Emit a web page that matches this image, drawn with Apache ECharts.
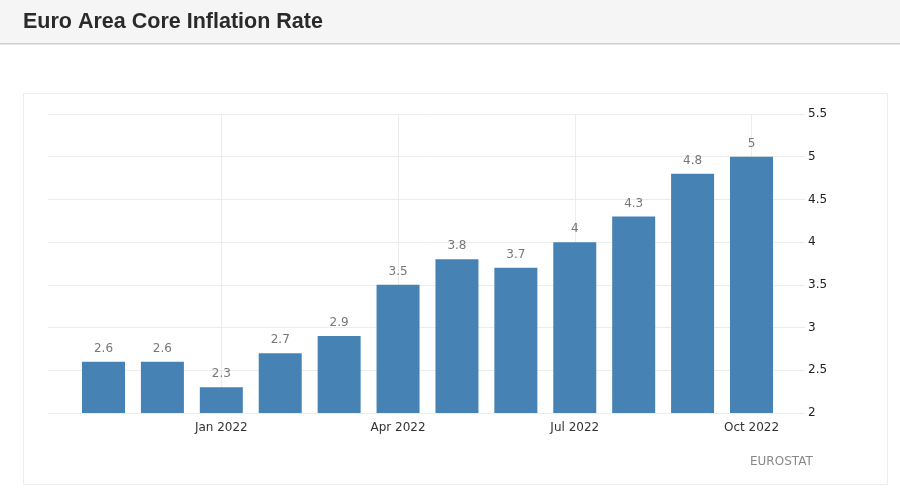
<!DOCTYPE html>
<html>
<head>
<meta charset="utf-8">
<script src="https://cdn.jsdelivr.net/npm/echarts@6/dist/echarts.min.js"></script>
<style>
html,body{margin:0;padding:0;background:#fff;}
#chart{width:900px;height:499px;}
</style>
</head>
<body>
<div id="chart"></div>
<script>
const months = ['Nov 2021','Dec 2021','Jan 2022','Feb 2022','Mar 2022','Apr 2022','May 2022','Jun 2022','Jul 2022','Aug 2022','Sep 2022','Oct 2022'];
const coreInflation = [2.6, 2.6, 2.3, 2.7, 2.9, 3.5, 3.8, 3.7, 4, 4.3, 4.8, 5];
const yMin = 2, yMax = 5.5, yStep = 0.5;
const labeledIdx = [2, 5, 8, 11];

const chart = echarts.init(document.getElementById('chart'));
const font = 'DejaVu Sans';
chart.setOption({
  animation: false,
  backgroundColor: '#fff',
  title: {
    text: 'Euro Area Core Inflation Rate',
    left: 18, top: 6,
    textStyle: {fontFamily: 'Liberation Sans', fontWeight: 'bold', fontSize: 21.5, color: '#2a2a2a'}
  },
  graphic: [
    {type: 'rect', z: -10, shape: {x: 0, y: 0, width: 900, height: 43}, style: {fill: '#f5f5f5'}},
    {type: 'rect', z: -9, shape: {x: 0, y: 43, width: 900, height: 1.5}, style: {fill: '#cfcfcf'}},
    {type: 'rect', z: -8, shape: {x: 23.5, y: 93.5, width: 864, height: 391}, style: {fill: 'none', stroke: '#ededed', lineWidth: 1}},
    {type: 'text', left: 750, top: 456, style: {text: 'EUROSTAT', fontFamily: font, fontSize: 12, fill: '#888'}}
  ],
  grid: [
    {left: 48, right: 95, top: 114, bottom: 86},
    {left: 103.5, right: 148.5, top: 114, bottom: 86}
  ],
  xAxis: [
    {gridIndex: 0, type: 'value', show: false, min: 0, max: 1},
    {
      gridIndex: 1, type: 'category', data: months, boundaryGap: false,
      axisLine: {show: false}, axisTick: {show: false},
      axisLabel: {
        interval: (i) => labeledIdx.includes(i), margin: 9,
        fontFamily: font, fontSize: 12, color: '#333'
      },
      splitLine: {show: true, interval: (i) => labeledIdx.includes(i), lineStyle: {color: '#ececec', width: 1}}
    }
  ],
  yAxis: [
    {
      gridIndex: 0, type: 'value', position: 'right', min: yMin, max: yMax, interval: yStep,
      axisLine: {show: false}, axisTick: {show: false},
      axisLabel: {margin: 3, fontFamily: font, fontSize: 12, color: '#222'},
      splitLine: {lineStyle: {color: '#ececec', width: 1}}
    },
    {gridIndex: 1, type: 'value', show: false, min: yMin, max: yMax, interval: yStep, startValue: yMin, splitLine: {show: false}}
  ],
  series: [{
    type: 'bar', xAxisIndex: 1, yAxisIndex: 1, data: coreInflation,
    barWidth: 43, clip: false,
    itemStyle: {color: '#4682b4'},
    label: {show: true, position: 'top', distance: 7, fontFamily: font, fontSize: 12, color: '#777'}
  }]
});
</script>
</body>
</html>
